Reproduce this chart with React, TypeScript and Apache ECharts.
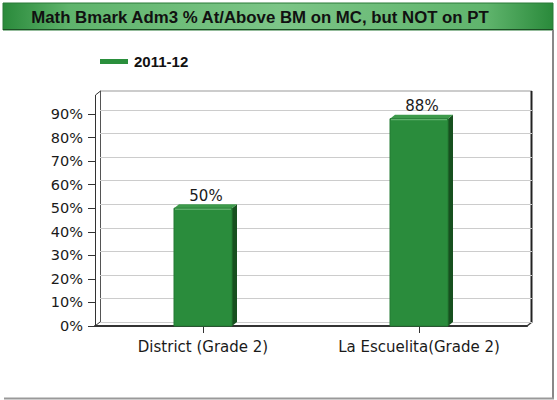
import React, { useEffect, useRef } from "react";
import * as echarts from "echarts";

const titleText = "Math Bmark Adm3 % At/Above BM on MC, but NOT on PT";
const seriesName = "2011-12";
const categories = ["District (Grade 2)", "La Escuelita(Grade 2)"];
const values = [50, 88];
const yTicks = [0, 10, 20, 30, 40, 50, 60, 70, 80, 90];

const FONT = "'Liberation Sans', Arial, sans-serif";
const AXFONT = "'DejaVu Sans', Verdana, sans-serif";

export default function App() {
  const ref = useRef<HTMLDivElement>(null);
  useEffect(() => {
    if (!ref.current) return;
    const chart = echarts.init(ref.current, null, { renderer: "svg" });
    const dx = 5;
    const dy = -4;
    const option: any = {
      animation: false,
      backgroundColor: "#ffffff",
      textStyle: { fontFamily: FONT },
      legend: {
        data: [seriesName],
        left: 100,
        top: 54,
        padding: 0,
        icon: "rect",
        itemWidth: 28,
        itemHeight: 5,
        itemGap: 6,
        textStyle: { fontFamily: FONT, fontSize: 15, fontWeight: "bold", color: "#111", padding: [0, 0, 0, 1] },
      },
      grid: [
        { left: 95, right: 30, top: 114, bottom: 74 },
        { left: 100, right: 25, top: 110, bottom: 78 },
      ],
      xAxis: [
        {
          type: "category",
          gridIndex: 0,
          data: categories,
          axisLine: { show: true, lineStyle: { color: "#333", width: 2 } },
          axisTick: { show: true, alignWithLabel: true, length: 7, lineStyle: { color: "#333" } },
          axisLabel: { fontFamily: AXFONT, fontSize: 15, color: "#1a1a1a", margin: 13 },
          splitLine: { show: false },
        },
        {
          type: "value",
          gridIndex: 1,
          show: false,
          min: 0,
          max: 1,
        },
      ],
      yAxis: [
        {
          type: "value",
          gridIndex: 0,
          min: yTicks[0],
          max: yTicks[yTicks.length - 1],
          interval: 10,
          axisLine: { show: false },
          axisTick: { show: true, length: 7, lineStyle: { color: "#333" } },
          axisLabel: {
            fontFamily: AXFONT,
            fontSize: 14.5,
            color: "#1a1a1a",
            margin: 12,
            formatter: (v: number) => `${v}%`,
          },
          splitLine: { show: false },
        },
        {
          type: "value",
          gridIndex: 1,
          min: yTicks[0],
          max: yTicks[yTicks.length - 1],
          interval: 10,
          axisLine: { show: false },
          axisTick: { show: false },
          axisLabel: { show: false },
          splitLine: { show: true, lineStyle: { color: "#cccccc", width: 1 } },
        },
      ],
      graphic: [
        {
          type: "rect",
          shape: { x: 3, y: 3, width: 550, height: 27 },
          style: {
            fill: new echarts.graphic.LinearGradient(0, 0, 1, 0, [
              { offset: 0, color: "#2a8a3b" },
              { offset: 0.12, color: "#5fb46c" },
              { offset: 0.5, color: "#7cc587" },
              { offset: 0.88, color: "#5fb46c" },
              { offset: 1, color: "#2a8a3b" },
            ]),
            stroke: "#2b7a38",
            lineWidth: 1,
          },
          z: 0,
        },
        {
          type: "line",
          shape: { x1: 3, y1: 29.5, x2: 553, y2: 29.5 },
          style: { stroke: "#1d4f25", lineWidth: 1 },
          z: 1,
        },
        {
          type: "text",
          x: 260,
          y: 17.5,
          style: {
            text: titleText,
            font: `bold 16.8px ${FONT}`,
            fill: "#111",
            align: "center",
            verticalAlign: "middle",
          },
          z: 2,
        },
        {
          type: "line",
          shape: { x1: 553, y1: 30, x2: 553, y2: 398 },
          style: { stroke: "#888", lineWidth: 2 },
        },
        {
          type: "line",
          shape: { x1: 4, y1: 398.5, x2: 554, y2: 398.5 },
          style: { stroke: "#999", lineWidth: 2 },
        },
        {
          type: "line",
          shape: { x1: 100, y1: 91, x2: 532, y2: 91 },
          style: { stroke: "#999", lineWidth: 1 },
        },
        {
          type: "line",
          shape: { x1: 100.5, y1: 91, x2: 100.5, y2: 322 },
          style: { stroke: "#555", lineWidth: 1 },
        },
        {
          type: "line",
          shape: { x1: 95.5, y1: 95, x2: 95.5, y2: 326 },
          style: { stroke: "#333", lineWidth: 1 },
        },
        {
          type: "line",
          shape: { x1: 95.5, y1: 95, x2: 100.5, y2: 91 },
          style: { stroke: "#333", lineWidth: 1 },
        },
        {
          type: "line",
          shape: { x1: 100, y1: 322.5, x2: 532, y2: 322.5 },
          style: { stroke: "#555", lineWidth: 1 },
        },
        {
          type: "line",
          shape: { x1: 527, y1: 326, x2: 532, y2: 322 },
          style: { stroke: "#333", lineWidth: 1.5 },
        },
        {
          type: "line",
          shape: { x1: 531.5, y1: 91, x2: 531.5, y2: 322.5 },
          style: { stroke: "#222", lineWidth: 2 },
        },
        {
          type: "line",
          shape: { x1: 95, y1: 326, x2: 100, y2: 322 },
          style: { stroke: "#333", lineWidth: 1 },
        },
      ],
      series: [
        {
          name: seriesName,
          type: "custom",
          xAxisIndex: 0,
          yAxisIndex: 0,
          itemStyle: { color: "#2a8f3c" },
          data: values.map((v, i) => [i, v]),
          renderItem: (params: any, api: any) => {
            const idx = api.value(0);
            const val = api.value(1);
            const top = api.coord([idx, val]);
            const base = api.coord([idx, 0]);
            const w = 58;
            const x0 = top[0] - w / 2;
            const x1 = top[0] + w / 2;
            const yt = top[1];
            const yb = base[1];
            return {
              type: "group",
              children: [
                {
                  type: "polygon",
                  shape: {
                    points: [
                      [x1, yt],
                      [x1 + dx, yt + dy],
                      [x1 + dx, yb + dy],
                      [x1, yb],
                    ],
                  },
                  style: { fill: "#17501f" },
                },
                {
                  type: "polygon",
                  shape: {
                    points: [
                      [x0, yt],
                      [x0 + dx, yt + dy],
                      [x1 + dx, yt + dy],
                      [x1, yt],
                    ],
                  },
                  style: { fill: "#3d9a4b" },
                },
                {
                  type: "rect",
                  shape: { x: x0, y: yt, width: w, height: yb - yt },
                  style: { fill: "#2a8c3c", stroke: "#237a33", lineWidth: 1 },
                },
                {
                  type: "line",
                  shape: { x1: x0 + 1, y1: yt + 1, x2: x1 - 1, y2: yt + 1 },
                  style: { stroke: "#6fbb7a", lineWidth: 1 },
                },
                {
                  type: "text",
                  x: top[0] + 3,
                  y: yt + dy - 1,
                  style: {
                    text: `${val}%`,
                    font: `15px ${AXFONT}`,
                    fill: "#1a1a1a",
                    align: "center",
                    verticalAlign: "bottom",
                  },
                },
              ],
            };
          },
        },
      ],
    };
    chart.setOption(option);
    return () => chart.dispose();
  }, []);
  return (
    <div
      ref={ref}
      style={{ position: "fixed", left: 0, top: 0, width: 557, height: 400 }}
    />
  );
}
